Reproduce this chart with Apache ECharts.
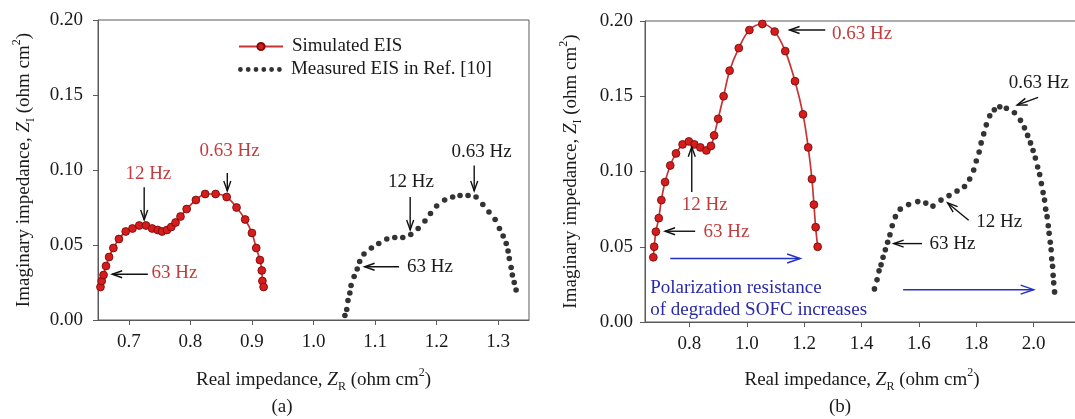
<!DOCTYPE html>
<html>
<head>
<meta charset="utf-8">
<script src="https://cdn.jsdelivr.net/npm/echarts@6/dist/echarts.min.js"></script>
<style>
  html, body { margin: 0; padding: 0; background: #fff; }
  #chart { width: 1075px; height: 419px; }
</style>
</head>
<body>
<div id="chart"></div>
<script>
// ---- axis ticks ----
const xTicksA = [0.7, 0.8, 0.9, 1.0, 1.1, 1.2, 1.3];
const xTicksB = [0.8, 1.0, 1.2, 1.4, 1.6, 1.8, 2.0];
const yTicks = [0, 0.05, 0.10, 0.15, 0.20];

// ---- (a) simulated EIS ----
const simAZr = [0.654, 0.656, 0.659, 0.663, 0.668, 0.675, 0.684, 0.695, 0.706, 0.717, 0.728, 0.738, 0.747, 0.754, 0.762, 0.769,
  0.776, 0.784, 0.794, 0.809, 0.824, 0.841, 0.859, 0.875, 0.889, 0.900, 0.907, 0.913, 0.916, 0.917, 0.919];
const simAZi = [0.022, 0.026, 0.030, 0.036, 0.042, 0.048, 0.054, 0.059, 0.061, 0.063, 0.063, 0.061, 0.060, 0.059, 0.060, 0.062,
  0.065, 0.069, 0.074, 0.080, 0.084, 0.084, 0.082, 0.075, 0.067, 0.058, 0.048, 0.040, 0.033, 0.026, 0.022];

// ---- (a) measured EIS, Ref. [10] ----
const measAZr = [1.051, 1.054, 1.056, 1.059, 1.061, 1.066, 1.071, 1.075, 1.082, 1.094, 1.106, 1.119, 1.132, 1.145, 1.158, 1.170,
  1.181, 1.190, 1.200, 1.213, 1.226, 1.238, 1.251, 1.264, 1.275, 1.285, 1.295, 1.302, 1.308, 1.313, 1.316, 1.318, 1.321, 1.323,
  1.326, 1.329];
const measAZi = [0.003, 0.007, 0.013, 0.018, 0.023, 0.029, 0.034, 0.039, 0.044, 0.048, 0.051, 0.054, 0.055, 0.055, 0.057, 0.061,
  0.066, 0.071, 0.076, 0.080, 0.082, 0.083, 0.083, 0.082, 0.077, 0.072, 0.067, 0.061, 0.056, 0.051, 0.046, 0.041, 0.035, 0.030,
  0.025, 0.020];

// ---- (b) simulated EIS, degraded cell ----
const simBZr = [0.674, 0.677, 0.683, 0.693, 0.702, 0.715, 0.733, 0.753, 0.776, 0.798, 0.817, 0.838, 0.859, 0.875, 0.886, 0.900,
  0.919, 0.940, 0.972, 1.009, 1.054, 1.097, 1.134, 1.168, 1.196, 1.214, 1.227, 1.234, 1.240, 1.247];
const simBZi = [0.043, 0.050, 0.060, 0.069, 0.081, 0.093, 0.104, 0.112, 0.118, 0.120, 0.118, 0.116, 0.114, 0.117, 0.124, 0.135,
  0.150, 0.167, 0.182, 0.194, 0.198, 0.193, 0.180, 0.160, 0.138, 0.116, 0.095, 0.078, 0.063, 0.050];

// ---- (b) measured EIS, degraded cell ----
const measBZr = [1.445, 1.454, 1.461, 1.468, 1.475, 1.483, 1.491, 1.499, 1.507, 1.518, 1.535, 1.564, 1.596, 1.624, 1.649, 1.677,
  1.705, 1.733, 1.759, 1.777, 1.791, 1.800, 1.810, 1.817, 1.826, 1.835, 1.847, 1.863, 1.882, 1.905, 1.933, 1.954, 1.968, 1.979,
  1.989, 1.998, 2.006, 2.014, 2.021, 2.027, 2.033, 2.038, 2.042, 2.047, 2.051, 2.054, 2.058, 2.061, 2.063, 2.066, 2.068, 2.070,
  2.073];
const measBZi = [0.022, 0.028, 0.034, 0.038, 0.043, 0.048, 0.053, 0.058, 0.064, 0.070, 0.075, 0.078, 0.080, 0.079, 0.077, 0.081,
  0.084, 0.087, 0.090, 0.095, 0.101, 0.107, 0.113, 0.119, 0.125, 0.131, 0.137, 0.141, 0.143, 0.142, 0.139, 0.134, 0.129, 0.124,
  0.119, 0.114, 0.109, 0.103, 0.098, 0.092, 0.086, 0.081, 0.075, 0.070, 0.064, 0.059, 0.053, 0.048, 0.042, 0.037, 0.031, 0.026,
  0.020];

// ---- frequency markers: arrows [fromZr, fromZi, toZr, toZi] and labels [text, Zr, Zi] ----
const arrowsSimA = [[0.725, 0.0885, 0.725, 0.0667], [0.860, 0.098, 0.860, 0.086], [0.731, 0.0305, 0.673, 0.0305]];
const labelsSimA = [['12 Hz', 0.6945, 0.097], ['0.63 Hz', 0.815, 0.1127], ['63 Hz', 0.737, 0.031]];
const arrowsMeasA = [[1.157, 0.082, 1.157, 0.060], [1.261, 0.103, 1.261, 0.086], [1.139, 0.0355, 1.083, 0.0355]];
const labelsMeasA = [['12 Hz', 1.121, 0.0918], ['0.63 Hz', 1.224, 0.1122], ['63 Hz', 1.152, 0.0355]];

const arrowsSimB = [[1.2735, 0.194, 1.149, 0.194], [0.808, 0.0864, 0.808, 0.1164], [0.820, 0.0603, 0.715, 0.0603]];
const labelsSimB = [['0.63 Hz', 1.297, 0.1913], ['12 Hz', 0.7735, 0.0776], ['63 Hz', 0.849, 0.0598]];
const arrowsMeasB = [[2.0156, 0.1492, 1.9424, 0.1441], [1.7735, 0.0676, 1.7002, 0.0791], [1.611, 0.0521, 1.512, 0.0521]];
const labelsMeasB = [['0.63 Hz', 1.913, 0.1589], ['12 Hz', 1.800, 0.0665], ['63 Hz', 1.637, 0.0521]];
const arrowsShiftB = [[0.733, 0.0422, 1.186, 0.0422], [1.545, 0.0215, 2.000, 0.0215]];
const labelsShiftB = [['Polarization resistance', 0.663, 0.0226], ['of degraded SOFC increases', 0.663, 0.0078]];

// ---- styling ----
const FONT = '"Liberation Serif", "Times New Roman", serif';
const TEXT = '#1a1a1a';
const AXIS = '#5a5a5a';
const RED_LINE = '#c83434';
const RED_FILL = '#d71c1c';
const RED_EDGE = '#7a0c0c';
const RED_TEXT = '#c23d3d';
const BLUE = '#2a2aa6';
const BLUE_ARROW = '#2432c4';

const zip = (a, b) => a.map((v, i) => [v, b[i]]);

const nameRich = {
  i: { fontFamily: FONT, fontSize: 19, fontStyle: 'italic', color: TEXT },
  s: { fontFamily: FONT, fontSize: 12, color: TEXT, verticalAlign: 'bottom', lineHeight: 12 },
  p: { fontFamily: FONT, fontSize: 12, color: TEXT, verticalAlign: 'top', lineHeight: 10 }
};
const nameStyle = (extra) => Object.assign({
  fontFamily: FONT, fontSize: 19, color: TEXT, lineHeight: 26, rich: nameRich
}, extra || {});

function xAxisFor(gridIndex, min, max, ticks, nameGap, namePad) {
  return {
    type: 'value', gridIndex, min, max,
    name: 'Real impedance, {i|Z}{s|R} (ohm cm{p|2})',
    nameLocation: 'middle', nameGap,
    nameTextStyle: nameStyle({ padding: namePad }),
    axisLine: { show: true, lineStyle: { color: AXIS, width: 1 } },
    axisTick: { show: true, customValues: ticks, length: 5, lineStyle: { color: AXIS } },
    axisLabel: { customValues: ticks, formatter: v => v.toFixed(1), margin: 13,
      fontFamily: FONT, fontSize: 19, color: TEXT },
    splitLine: { show: false }
  };
}
function yAxisFor(gridIndex, nameGap, labelMargin) {
  return {
    type: 'value', gridIndex, min: 0, max: 0.2, interval: 0.05,
    name: 'Imaginary impedance, {i|Z}{s|I} (ohm cm{p|2})',
    nameLocation: 'middle', nameGap,
    nameTextStyle: nameStyle(),
    axisLine: { show: true, lineStyle: { color: AXIS, width: 1 } },
    axisTick: { show: true, customValues: yTicks, length: 5, lineStyle: { color: AXIS } },
    axisLabel: { customValues: yTicks, formatter: v => v.toFixed(2), margin: labelMargin,
      fontFamily: FONT, fontSize: 19, color: TEXT },
    splitLine: { show: false }
  };
}

// arrows with an open chevron head
function arrowSeries(list, axisIndex, color, headLen, headHalf, width) {
  return {
    type: 'custom', xAxisIndex: axisIndex, yAxisIndex: axisIndex, silent: true, z: 6,
    data: list, encode: { x: [0, 2], y: [1, 3] },
    renderItem(params, api) {
      const a = api.coord([api.value(0), api.value(1)]);
      const b = api.coord([api.value(2), api.value(3)]);
      const dx = b[0] - a[0], dy = b[1] - a[1];
      const len = Math.hypot(dx, dy) || 1;
      const ux = dx / len, uy = dy / len;
      const h1 = [b[0] - ux * headLen - uy * headHalf, b[1] - uy * headLen + ux * headHalf];
      const h2 = [b[0] - ux * headLen + uy * headHalf, b[1] - uy * headLen - ux * headHalf];
      return {
        type: 'group',
        children: [
          { type: 'line', shape: { x1: a[0], y1: a[1], x2: b[0], y2: b[1] },
            style: { stroke: color, lineWidth: width } },
          { type: 'polyline', shape: { points: [h1, b, h2] },
            style: { stroke: color, lineWidth: width, fill: null } }
        ]
      };
    }
  };
}

// text placed in data coordinates (left edge, vertical middle)
function labelSeries(list, axisIndex, color) {
  return {
    type: 'custom', xAxisIndex: axisIndex, yAxisIndex: axisIndex, silent: true, z: 7,
    data: list.map(d => [d[1], d[2]]), encode: { x: 0, y: 1 },
    renderItem(params, api) {
      const p = api.coord([api.value(0), api.value(1)]);
      return {
        type: 'text', x: p[0], y: p[1],
        style: { text: list[params.dataIndex][0], fill: color, font: '19px ' + FONT,
          align: 'left', verticalAlign: 'middle' }
      };
    }
  };
}

function simSeries(axisIndex, zr, zi) {
  return {
    name: 'Simulated EIS', type: 'line', xAxisIndex: axisIndex, yAxisIndex: axisIndex,
    data: zip(zr, zi), smooth: 0.35, symbol: 'circle', symbolSize: 7.8, showSymbol: true,
    lineStyle: { color: RED_LINE, width: 1.7 },
    itemStyle: { color: RED_FILL, borderColor: RED_EDGE, borderWidth: 0.9 },
    z: 3, animation: false
  };
}
function measSeries(axisIndex, zr, zi) {
  return {
    name: 'Measured EIS in Ref. [10]', type: 'scatter', xAxisIndex: axisIndex, yAxisIndex: axisIndex,
    data: zip(zr, zi), symbol: 'circle', symbolSize: 5.6,
    itemStyle: { color: '#000' }, z: 3, animation: false
  };
}

// six dots for the measured-data legend entry
const dotR = 2.4, dotStep = 7.8;
let dotsPath = 'path://';
for (let k = 0; k < 6; k++) {
  const cx = dotR + k * dotStep;
  dotsPath += 'M' + (cx - dotR) + ',' + dotR + 'a' + dotR + ',' + dotR + ' 0 1,0 ' + (2 * dotR) + ',0' +
    'a' + dotR + ',' + dotR + ' 0 1,0 ' + (-2 * dotR) + ',0Z';
}

const legendText = { fontFamily: FONT, fontSize: 19, color: TEXT, padding: [0, 0, 0, 4] };

const option = {
  animation: false,
  backgroundColor: '#fff',
  grid: [
    { left: 98, top: 20, width: 431, height: 300, show: true, borderColor: AXIS, borderWidth: 1,
      outerBoundsMode: 'none', containLabel: false },
    { left: 645, top: 21, width: 446, height: 301, show: true, borderColor: AXIS, borderWidth: 1,
      outerBoundsMode: 'none', containLabel: false }
  ],
  legend: [
    { data: ['Simulated EIS'], left: 233, top: 32, itemWidth: 44, itemHeight: 9,
      selectedMode: false, textStyle: legendText },
    { data: [{ name: 'Measured EIS in Ref. [10]', icon: dotsPath }], left: 233, top: 55,
      itemWidth: 44, itemHeight: 4.8, selectedMode: false, textStyle: legendText }
  ],
  xAxis: [
    xAxisFor(0, 0.65, 1.35, xTicksA, 47, [0, 0, 0, 0]),
    xAxisFor(1, 0.645, 2.2, xTicksB, 45, [0, 12, 0, 0])
  ],
  yAxis: [yAxisFor(0, 61, 15), yAxisFor(1, 61, 12)],
  series: [
    simSeries(0, simAZr, simAZi),
    measSeries(0, measAZr, measAZi),
    arrowSeries(arrowsSimA, 0, '#111', 10, 3.5, 1.4),
    arrowSeries(arrowsMeasA, 0, '#111', 10, 3.5, 1.4),
    labelSeries(labelsSimA, 0, RED_TEXT),
    labelSeries(labelsMeasA, 0, TEXT),
    simSeries(1, simBZr, simBZi),
    measSeries(1, measBZr, measBZi),
    arrowSeries(arrowsSimB, 1, '#111', 10, 3.5, 1.4),
    arrowSeries(arrowsMeasB, 1, '#111', 10, 3.5, 1.4),
    arrowSeries(arrowsShiftB, 1, BLUE_ARROW, 13, 4.5, 1.5),
    labelSeries(labelsSimB, 1, RED_TEXT),
    labelSeries(labelsMeasB, 1, TEXT),
    labelSeries(labelsShiftB, 1, BLUE)
  ],
  graphic: [
    { type: 'text', x: 282, y: 407, style: { text: '(a)', font: '19px ' + FONT, fill: TEXT,
      align: 'center', verticalAlign: 'middle' } },
    { type: 'text', x: 840, y: 407, style: { text: '(b)', font: '19px ' + FONT, fill: TEXT,
      align: 'center', verticalAlign: 'middle' } }
  ]
};

const chart = echarts.init(document.getElementById('chart'), null, { renderer: 'canvas' });
chart.setOption(option);
</script>
</body>
</html>
